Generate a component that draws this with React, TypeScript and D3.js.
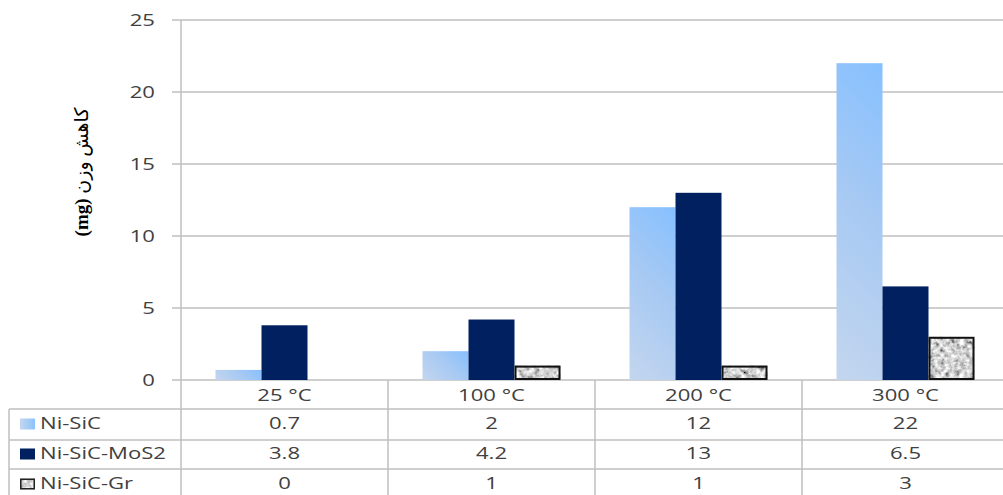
import React from "react";
import * as d3 from "d3";

const categories = ["25 °C", "100 °C", "200 °C", "300 °C"];
const seriesNames = ["Ni-SiC", "Ni-SiC-MoS2", "Ni-SiC-Gr"];
const niSiC = [0.7, 2, 12, 22];
const niSiCMoS2 = [3.8, 4.2, 13, 6.5];
const niSiCGr = [0, 1, 1, 3];
const yTicks = [0, 5, 10, 15, 20, 25];
const seriesValues = [niSiC, niSiCMoS2, niSiCGr];

const W = 1003;
const H = 495;
const left = 181;
const bandW = 207;
const y0 = 380;
const yTop = 20;
const rowLines = [409, 440, 469, 500];
const textColor = "#404040";
const gridColor = "#bfbfbf";
const font = "'Open Sans', 'Noto Sans', sans-serif";
const SX = 1.3;

function T(props: { x: number; y: number; anchor?: string; children: React.ReactNode }) {
  return (
    <text
      transform={`translate(${props.x},${props.y}) scale(${SX},1)`}
      dy="0.35em"
      textAnchor={props.anchor || "start"}
      fontFamily={font}
      fontSize={17}
      fill={textColor}
    >
      {props.children}
    </text>
  );
}

export default function App() {
  const x = d3.scaleBand<string>().domain(categories).range([left, left + bandW * categories.length]).padding(0);
  const x1 = d3.scaleBand<string>().domain(seriesNames).range([0, x.bandwidth()]).paddingInner(0).paddingOuter(0.75);
  const y = d3.scaleLinear().domain([0, 25]).range([y0, yTop]);
  const right = left + bandW * categories.length;
  const bw = x1.bandwidth();

  const sicBars = niSiC.map((v, ci) => {
    const bx = (x(categories[ci]) as number) + (x1(seriesNames[0]) as number);
    const by = y(v);
    const bh = y0 - by;
    const d = (bw + bh) / 2;
    return { bx, by, bh, d, ci };
  });

  return (
    <svg width={W} height={H} style={{ position: "absolute", left: 0, top: 0, background: "#fff" }}>
      <defs>
        {sicBars.map((b) => (
          <linearGradient key={b.ci} id={`gradSiC${b.ci}`} gradientUnits="userSpaceOnUse"
            x1={b.bx} y1={y0} x2={b.bx + b.d} y2={y0 - b.d}>
            <stop offset="0" stopColor="#c4d6ee" />
            <stop offset="0.55" stopColor="#a6c9f3" />
            <stop offset="1" stopColor="#86c0ff" />
          </linearGradient>
        ))}
        <linearGradient id="gradKey" x1="0" y1="0" x2="1" y2="0">
          <stop offset="0" stopColor="#c4d6ee" />
          <stop offset="1" stopColor="#8cc2fc" />
        </linearGradient>
        <filter id="granite" x="0" y="0" width="100%" height="100%">
          <feTurbulence type="fractalNoise" baseFrequency="0.2" numOctaves="3" seed="4" result="noise" />
          <feColorMatrix in="noise" type="matrix"
            values="0.8 0.8 0.8 0 -0.56  0.8 0.8 0.8 0 -0.56  0.8 0.8 0.8 0 -0.56  0 0 0 0 1" result="gray" />
          <feComposite in="gray" in2="SourceGraphic" operator="in" />
        </filter>
      </defs>

      {/* gridlines & ticks */}
      {yTicks.map((t) => (
        <g key={t}>
          <line x1={172} x2={right} y1={y(t)} y2={y(t)} stroke={gridColor} strokeWidth={1.5} />
          <T x={155} y={y(t)} anchor="end">{t}</T>
        </g>
      ))}

      {/* y axis title */}
      <text
        transform={`translate(88,${172}) rotate(-90)`}
        textAnchor="middle"
        fontFamily="'Liberation Serif', 'DejaVu Sans', serif"
        fontSize={19}
        fill="#000"
        direction="rtl"
        style={{ direction: "rtl", unicodeBidi: "embed" } as any}
      >
        کاهش وزن <tspan fontWeight="bold">(mg)</tspan>
      </text>

      {/* bars */}
      {sicBars.map((b) =>
        niSiC[b.ci] > 0 ? (
          <rect key={`s${b.ci}`} x={b.bx} y={b.by} width={bw} height={b.bh} fill={`url(#gradSiC${b.ci})`} />
        ) : null
      )}
      {niSiCMoS2.map((v, ci) => {
        if (v <= 0) return null;
        const bx = (x(categories[ci]) as number) + (x1(seriesNames[1]) as number);
        return <rect key={`m${ci}`} x={bx} y={y(v)} width={bw} height={y0 - y(v)} fill="#002060" />;
      })}
      {niSiCGr.map((v, ci) => {
        if (v <= 0) return null;
        const bx = (x(categories[ci]) as number) + (x1(seriesNames[2]) as number);
        const by = y(v);
        const bh = y0 - by;
        return (
          <g key={`g${ci}`}>
            <rect x={bx} y={by} width={bw} height={bh} fill="#999" filter="url(#granite)" />
            <rect x={bx + 1} y={by + 1} width={bw - 2} height={bh - 2} fill="none" stroke="#111" strokeWidth={2} />
          </g>
        );
      })}

      {/* y axis line */}
      <line x1={left} x2={left} y1={yTop} y2={H} stroke={gridColor} strokeWidth={1.5} />

      {/* table */}
      {rowLines.map((ry) => (
        <line key={ry} x1={9} x2={right} y1={ry} y2={ry} stroke={gridColor} strokeWidth={1.5} />
      ))}
      <line x1={9} x2={9} y1={rowLines[0]} y2={H} stroke={gridColor} strokeWidth={1.5} />
      {categories.map((c, i) =>
        i > 0 ? (
          <line key={c} x1={x(c)} x2={x(c)} y1={y0} y2={H} stroke={gridColor} strokeWidth={1.5} />
        ) : null
      )}
      {categories.map((c) => (
        <T key={c} x={(x(c) as number) + bandW / 2} y={395} anchor="middle">{c}</T>
      ))}
      {seriesNames.map((s, si) => {
        const cy = (rowLines[si] + rowLines[si + 1]) / 2 - 1;
        return (
          <g key={s}>
            {si === 2 ? (
              <g>
                <rect x={20} y={cy - 5} width={15} height={11} fill="#999" filter="url(#granite)" />
                <rect x={20.75} y={cy - 4.25} width={13.5} height={9.5} fill="none" stroke="#222" strokeWidth={1.5} />
              </g>
            ) : (
              <rect x={20} y={cy - 5} width={15} height={11} fill={si === 0 ? "url(#gradKey)" : "#002060"} />
            )}
            <T x={40} y={cy}>{s}</T>
            {seriesValues[si].map((v, ci) => (
              <T key={ci} x={(x(categories[ci]) as number) + bandW / 2} y={cy} anchor="middle">{v}</T>
            ))}
          </g>
        );
      })}
    </svg>
  );
}
